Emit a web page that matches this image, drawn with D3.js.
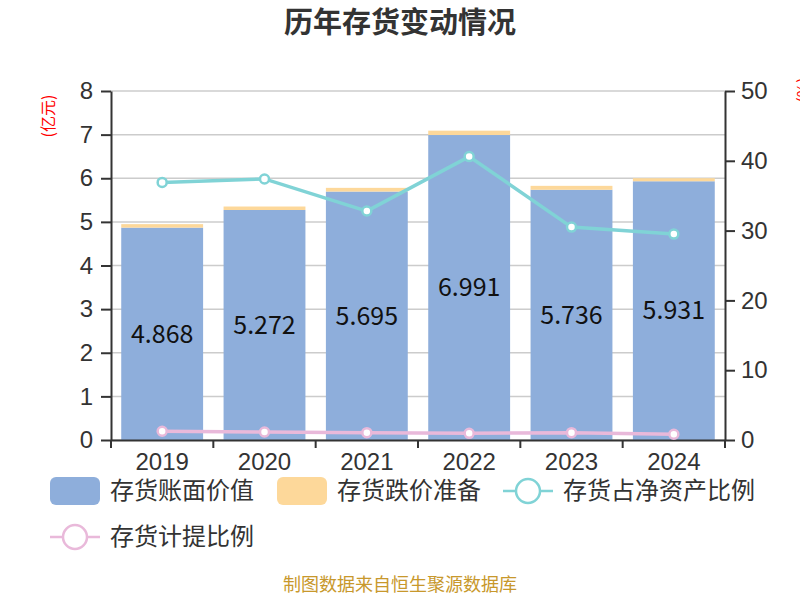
<!DOCTYPE html>
<html>
<head>
<meta charset="utf-8">
<script src="https://cdn.jsdelivr.net/npm/d3@7"></script>
<style>
  body { margin: 0; background: #fff; }
  svg { font-family: "Noto Sans CJK SC", "Noto Sans", sans-serif; }
  .axis path, .axis line { stroke: #333; }
  .axis text { fill: #333; font-size: 24px; }
</style>
</head>
<body>
<svg width="800" height="600"></svg>
<script>
// data
var years = ["2019", "2020", "2021", "2022", "2023", "2024"];
var bookValue = [4.868, 5.272, 5.695, 6.991, 5.736, 5.931];      // 存货账面价值 (亿元)
var reserve = [0.08, 0.08, 0.085, 0.10, 0.09, 0.07];             // 存货跌价准备 (亿元)
var ratioNet = [36.9, 37.4, 32.8, 40.6, 30.5, 29.5];             // 存货占净资产比例 (%)
var ratioProv = [1.25, 1.15, 1.05, 0.95, 1.05, 0.82];            // 存货计提比例 (%)
var leftTicks = [0, 1, 2, 3, 4, 5, 6, 7, 8];
var rightTicks = [0, 10, 20, 30, 40, 50];

var colors = { book: "#8eaedb", reserve: "#fdd89a", net: "#80d3d6", prov: "#e9b9da" };

var margin = { top: 91, right: 75, bottom: 160, left: 111 };
var svg = d3.select("svg");
var width = +svg.attr("width") - margin.left - margin.right;
var height = +svg.attr("height") - margin.top - margin.bottom;

svg.append("text")
    .attr("x", 400).attr("y", 33)
    .attr("text-anchor", "middle")
    .attr("font-size", 29).attr("font-weight", "bold").attr("fill", "#333")
    .text("历年存货变动情况");

var g = svg.append("g").attr("transform", "translate(" + margin.left + "," + margin.top + ")");

var x = d3.scaleBand().domain(years).range([0, width]).paddingInner(0.2).paddingOuter(0.1);
var xb = d3.scaleBand().domain(years).range([0, width]);
var y = d3.scaleLinear().domain([0, 8]).range([height, 0]);
var y2 = d3.scaleLinear().domain([0, 50]).range([height, 0]);

// grid
g.selectAll(".grid").data(leftTicks).enter().append("line")
    .attr("x1", 0).attr("x2", width)
    .attr("y1", function (d) { return y(d); }).attr("y2", function (d) { return y(d); })
    .attr("stroke", "#ccc").attr("stroke-width", 1.5);

// stacked bars
g.selectAll(".bar").data(years).enter().append("rect")
    .attr("x", function (d) { return x(d); })
    .attr("width", x.bandwidth())
    .attr("y", function (d, i) { return y(bookValue[i]); })
    .attr("height", function (d, i) { return height - y(bookValue[i]); })
    .attr("fill", colors.book);
g.selectAll(".res").data(years).enter().append("rect")
    .attr("x", function (d) { return x(d); })
    .attr("width", x.bandwidth())
    .attr("y", function (d, i) { return y(bookValue[i] + reserve[i]); })
    .attr("height", function (d, i) { return y(bookValue[i]) - y(bookValue[i] + reserve[i]); })
    .attr("fill", colors.reserve);

g.selectAll(".lbl").data(years).enter().append("text")
    .attr("x", function (d) { return x(d) + x.bandwidth() / 2; })
    .attr("y", function (d, i) { return (y(bookValue[i]) + height) / 2; })
    .attr("dy", "0.35em")
    .attr("text-anchor", "middle")
    .attr("font-size", 25).attr("fill", "#111")
    .text(function (d, i) { return bookValue[i].toFixed(3); });

// axes
var ax = g.append("g").attr("class", "axis")
    .attr("transform", "translate(0," + height + ")")
    .call(d3.axisBottom(xb).tickSize(0).tickSizeOuter(0).tickPadding(13));
ax.select(".domain").attr("stroke-width", 2);
var bounds = d3.range(years.length + 1);
ax.selectAll(".bt").data(bounds).enter().append("line")
    .attr("x1", function (d) { return d * xb.step(); }).attr("x2", function (d) { return d * xb.step(); })
    .attr("y1", 0).attr("y2", 8).attr("stroke", "#333").attr("stroke-width", 2);
ax.selectAll(".tick text").attr("dy", "0.72em").attr("font-size", 25);

var ay = g.append("g").attr("class", "axis")
    .call(d3.axisLeft(y).tickValues(leftTicks).tickSize(10).tickSizeOuter(0).tickPadding(8));
ay.selectAll("path, line").attr("stroke-width", 2);

var ay2 = g.append("g").attr("class", "axis")
    .attr("transform", "translate(" + width + ",0)")
    .call(d3.axisRight(y2).tickValues(rightTicks).tickSize(10).tickSizeOuter(0).tickPadding(6));
ay2.selectAll("path, line").attr("stroke-width", 2);

svg.append("text")
    .attr("transform", "translate(48,116) rotate(-90)")
    .attr("text-anchor", "middle").attr("dy", "0.35em")
    .attr("font-size", 16).attr("fill", "#f00")
    .text("(亿元)");
svg.append("text")
    .attr("transform", "translate(803,90) rotate(-90)")
    .attr("text-anchor", "middle").attr("dy", "0.35em")
    .attr("font-size", 16).attr("fill", "#f00")
    .text("(%)");

// lines
function drawLine(vals, color) {
    var line = d3.line()
        .x(function (d, i) { return x(years[i]) + x.bandwidth() / 2; })
        .y(function (d) { return y2(d); });
    g.append("path").datum(vals)
        .attr("d", line).attr("fill", "none")
        .attr("stroke", color).attr("stroke-width", 3.5);
    g.selectAll(null).data(vals).enter().append("circle")
        .attr("cx", function (d, i) { return x(years[i]) + x.bandwidth() / 2; })
        .attr("cy", function (d) { return y2(d); })
        .attr("r", 4.5).attr("fill", "#fff")
        .attr("stroke", color).attr("stroke-width", 2.5);
}
drawLine(ratioProv, colors.prov);
drawLine(ratioNet, colors.net);

// legend
var legend = [
    { name: "存货账面价值", type: "rect", color: colors.book, x: 50, y: 491 },
    { name: "存货跌价准备", type: "rect", color: colors.reserve, x: 277, y: 491 },
    { name: "存货占净资产比例", type: "line", color: colors.net, x: 503, y: 491 },
    { name: "存货计提比例", type: "line", color: colors.prov, x: 50, y: 537 }
];
var lg = svg.selectAll(".lg").data(legend).enter().append("g")
    .attr("transform", function (d) { return "translate(" + d.x + "," + d.y + ")"; });
lg.filter(function (d) { return d.type === "rect"; }).append("rect")
    .attr("x", 0).attr("y", -14).attr("width", 50).attr("height", 28).attr("rx", 6)
    .attr("fill", function (d) { return d.color; });
var ll = lg.filter(function (d) { return d.type === "line"; });
ll.append("line").attr("x1", 0).attr("x2", 50).attr("y1", 0).attr("y2", 0)
    .attr("stroke", function (d) { return d.color; }).attr("stroke-width", 2.5);
ll.append("circle").attr("cx", 25).attr("cy", 0).attr("r", 12)
    .attr("fill", "#fff").attr("stroke", function (d) { return d.color; }).attr("stroke-width", 2.5);
lg.append("text")
    .attr("x", 60).attr("dy", "0.35em")
    .attr("font-size", 24).attr("fill", "#333")
    .text(function (d) { return d.name; });

svg.append("text")
    .attr("x", 400).attr("y", 591)
    .attr("text-anchor", "middle")
    .attr("font-size", 18).attr("fill", "#c8982c")
    .text("制图数据来自恒生聚源数据库");
</script>
</body>
</html>
